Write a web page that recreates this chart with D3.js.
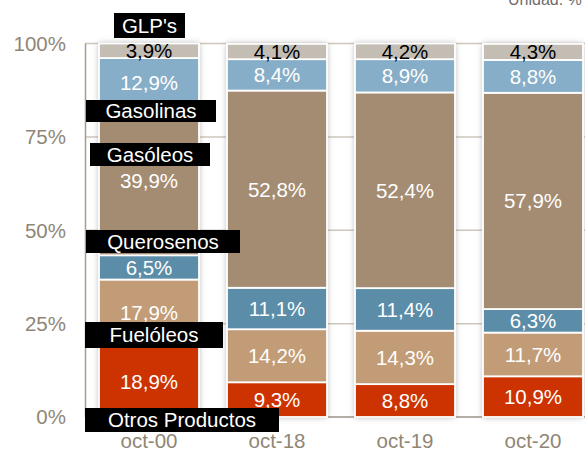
<!DOCTYPE html>
<meta charset="utf-8">
<style>
body { margin: 0; background: #fff; }
text { font-family: "Liberation Sans", Arial, sans-serif; }
</style>
<svg width="585" height="452"></svg>
<script src="https://d3js.org/d3.v7.min.js"></script>
<script>

// data, bottom to top
var categories = ["oct-00", "oct-18", "oct-19", "oct-20"];
var series = ["Otros Productos", "Fuelóleos", "Querosenos", "Gasóleos", "Gasolinas", "GLP's"];
var otros      = [18.9,  9.3,  8.8, 10.9];
var fueloleos  = [17.9, 14.2, 14.3, 11.7];
var querosenos = [ 6.5, 11.1, 11.4,  6.3];
var gasoleos   = [39.9, 52.8, 52.4, 57.9];
var gasolinas  = [12.9,  8.4,  8.9,  8.8];
var glp        = [ 3.9,  4.1,  4.2,  4.3];
var yTicks = [0, 25, 50, 75, 100];

var colors = ["#cc3300", "#c19c76", "#5b8ca8", "#a38c72", "#86aec8", "#c3bdb4"];
var labelColors = ["#fff", "#fff", "#fff", "#fff", "#fff", "#000"];

// legend label boxes (layout only)
var legendBoxes = [
  {x: 85, y: 408, w: 194, h: 24},
  {x: 85, y: 322, w: 138, h: 26},
  {x: 86, y: 230, w: 154, h: 23},
  {x: 90, y: 143, w: 120, h: 23},
  {x: 86, y: 100, w: 130, h: 22},
  {x: 114, y: 13, w: 71, h: 25}
];

var values = [otros, fueloleos, querosenos, gasoleos, gasolinas, glp];
var table = categories.map(function(c, i) {
  var row = {cat: c};
  series.forEach(function(s, j) { row[s] = values[j][i]; });
  return row;
});

var svg = d3.select("svg");
var fmt = function(v) { return d3.format(".1f")(v).replace(".", ",") + "%"; };

var x = d3.scaleBand().domain(categories).range([85, 597])
    .paddingInner(0.21875).paddingOuter(0.109375);
var y = d3.scaleLinear().domain([0, 100]).range([417, 43.5]);

var defs = svg.append("defs");
var f = defs.append("filter").attr("id", "shadow")
    .attr("x", "-20%").attr("y", "-5%").attr("width", "140%").attr("height", "110%");
f.append("feDropShadow").attr("dx", 0).attr("dy", 0)
    .attr("stdDeviation", 3).attr("flood-color", "#777").attr("flood-opacity", 0.6);

// gridlines
svg.append("g").selectAll("line")
  .data(yTicks.filter(function(d) { return d > 0; }))
  .enter().append("line")
    .attr("x1", 85).attr("x2", 585)
    .attr("y1", function(d) { return y(d); })
    .attr("y2", function(d) { return y(d); })
    .attr("stroke", "#cdc6bb").attr("stroke-width", 1.5);

// axes lines
svg.append("line").attr("x1", 85.5).attr("x2", 85.5).attr("y1", y(100)).attr("y2", y(0))
    .attr("stroke", "#a89c8c").attr("stroke-width", 1.5);
svg.append("line").attr("x1", 85).attr("x2", 585).attr("y1", y(0)).attr("y2", y(0))
    .attr("stroke", "#9a9488").attr("stroke-width", 1.5);

// y tick labels
svg.append("g").selectAll("text")
  .data(yTicks)
  .enter().append("text")
    .attr("x", 66).attr("y", function(d) { return y(d); })
    .attr("dy", "0.36em")
    .attr("text-anchor", "end")
    .attr("font-size", "20.5px")
    .attr("fill", "#8f8676")
    .text(function(d) { return d + "%"; });

// x labels
svg.append("g").selectAll("text")
  .data(categories)
  .enter().append("text")
    .attr("x", function(d) { return x(d) + x.bandwidth() / 2; })
    .attr("y", 448)
    .attr("text-anchor", "middle")
    .attr("font-size", "20.5px")
    .attr("fill", "#8f8676")
    .text(function(d) { return d; });

var stacked = d3.stack().keys(series)(table);

// shadow behind bars
svg.append("g").selectAll("rect")
  .data(categories)
  .enter().append("rect")
    .attr("filter", "url(#shadow)")
    .attr("x", function(d) { return x(d); })
    .attr("y", function(d, i) { return y(d3.sum(values, function(v) { return v[i]; })); })
    .attr("width", x.bandwidth())
    .attr("height", function(d, i) { return y(0) - y(d3.sum(values, function(v) { return v[i]; })); })
    .attr("fill", "#fff");

svg.append("g").selectAll("g")
  .data(stacked)
  .enter().append("g")
    .attr("fill", function(d, i) { return colors[i]; })
  .selectAll("rect")
  .data(function(d) { return d; })
  .enter().append("rect")
    .attr("x", function(d) { return x(d.data.cat); })
    .attr("y", function(d) { return y(d[1]); })
    .attr("width", x.bandwidth())
    .attr("height", function(d) { return y(d[0]) - y(d[1]); })
    .attr("stroke", "#fff").attr("stroke-width", 1.8);

// value labels
svg.append("g").selectAll("g")
  .data(stacked)
  .enter().append("g")
    .attr("fill", function(d, i) { return labelColors[i]; })
  .selectAll("text")
  .data(function(d) { return d; })
  .enter().append("text")
    .attr("x", function(d) { return x(d.data.cat) + x.bandwidth() / 2; })
    .attr("y", function(d) { return (y(d[0]) + y(d[1])) / 2; })
    .attr("dy", "0.36em")
    .attr("text-anchor", "middle")
    .attr("font-size", "20.5px")
    .text(function(d) { return fmt(d[1] - d[0]); });

// legend boxes
var leg = svg.append("g").selectAll("g")
  .data(series)
  .enter().append("g");
leg.append("rect")
    .attr("x", function(d, i) { return legendBoxes[i].x; })
    .attr("y", function(d, i) { return legendBoxes[i].y; })
    .attr("width", function(d, i) { return legendBoxes[i].w; })
    .attr("height", function(d, i) { return legendBoxes[i].h; })
    .attr("fill", "#000");
leg.append("text")
    .attr("x", function(d, i) { return legendBoxes[i].x + legendBoxes[i].w / 2; })
    .attr("y", function(d, i) { return legendBoxes[i].y + legendBoxes[i].h / 2; })
    .attr("dy", "0.36em")
    .attr("text-anchor", "middle")
    .attr("font-size", "20.5px")
    .attr("fill", "#fff")
    .text(function(d) { return d; });

svg.append("text")
    .attr("x", 508).attr("y", 5)
    .attr("font-size", "16px")
    .attr("fill", "#6e6e6e")
    .text("Unidad: %");

</script>
